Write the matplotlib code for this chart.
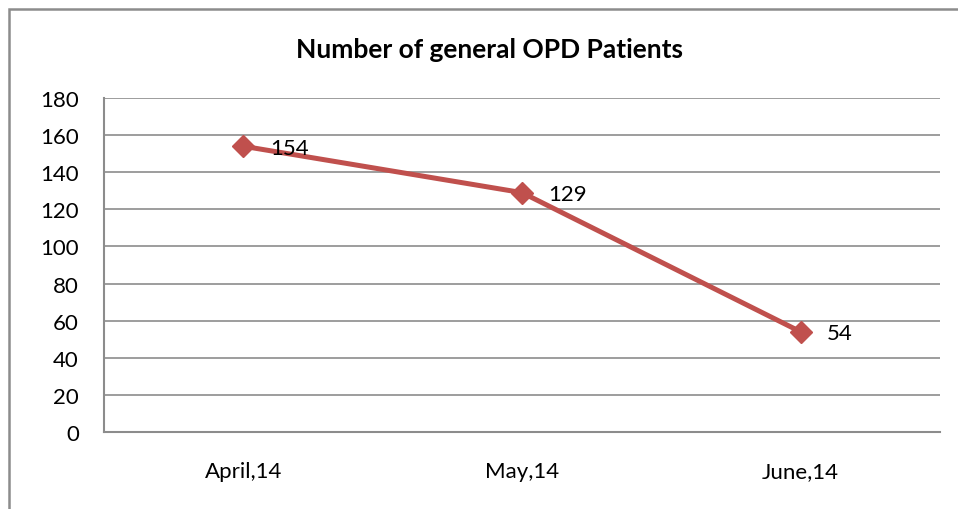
import matplotlib
matplotlib.use("Agg")
import matplotlib.pyplot as plt
from matplotlib.patches import Rectangle

categories = ["April,14", "May,14", "June,14"]
patients = [154, 129, 54]
yticks = [0, 20, 40, 60, 80, 100, 120, 140, 160, 180]
title = "Number of general OPD Patients"

plt.rcParams['font.family'] = ['Lato', 'DejaVu Sans']

W, H = 958, 510
fig = plt.figure(figsize=(W / 100, H / 100), dpi=100)
fig.patch.set_facecolor("white")

# outer chart frame (top/left visible, right/bottom cut off)
fig.patches.append(Rectangle((9 / W, -0.1), 1.2, (H - 10) / H + 0.1,
                             transform=fig.transFigure, fill=False,
                             edgecolor="#8c8c8c", linewidth=1.8))

ax = fig.add_axes([104 / W, 1 - 433 / H, (940 - 104) / W, (433 - 99) / H])
x = list(range(len(categories)))
ax.plot(x, patients, color="#C0504D", linewidth=3.6, marker="D",
        markersize=11.5, zorder=3, clip_on=False)
for xi, v in zip(x, patients):
    ax.annotate(str(v), (xi, v), xytext=(19, -1), textcoords="offset points",
                ha="left", va="center", fontsize=16, color="black")

ax.set_xlim(-0.5, len(categories) - 0.5)
ax.set_ylim(0, 180)
ax.set_yticks(yticks)
ax.set_xticks(x)
ax.set_xticklabels(categories, fontsize=16)
ax.tick_params(axis="y", labelsize=16, length=0, pad=18)
ax.tick_params(axis="x", length=0, pad=21)
ax.grid(axis="y", color="#8c8c8c", linewidth=1.2)
ax.set_axisbelow(True)
for s in ["top", "right"]:
    ax.spines[s].set_visible(False)
for s in ["left", "bottom"]:
    ax.spines[s].set_color("#8c8c8c")
    ax.spines[s].set_linewidth(1.5)

fig.text(489 / W, 1 - 50 / H, title, ha="center", va="center",
         fontsize=19, fontweight="bold")

fig.savefig("out.png", dpi=100)
